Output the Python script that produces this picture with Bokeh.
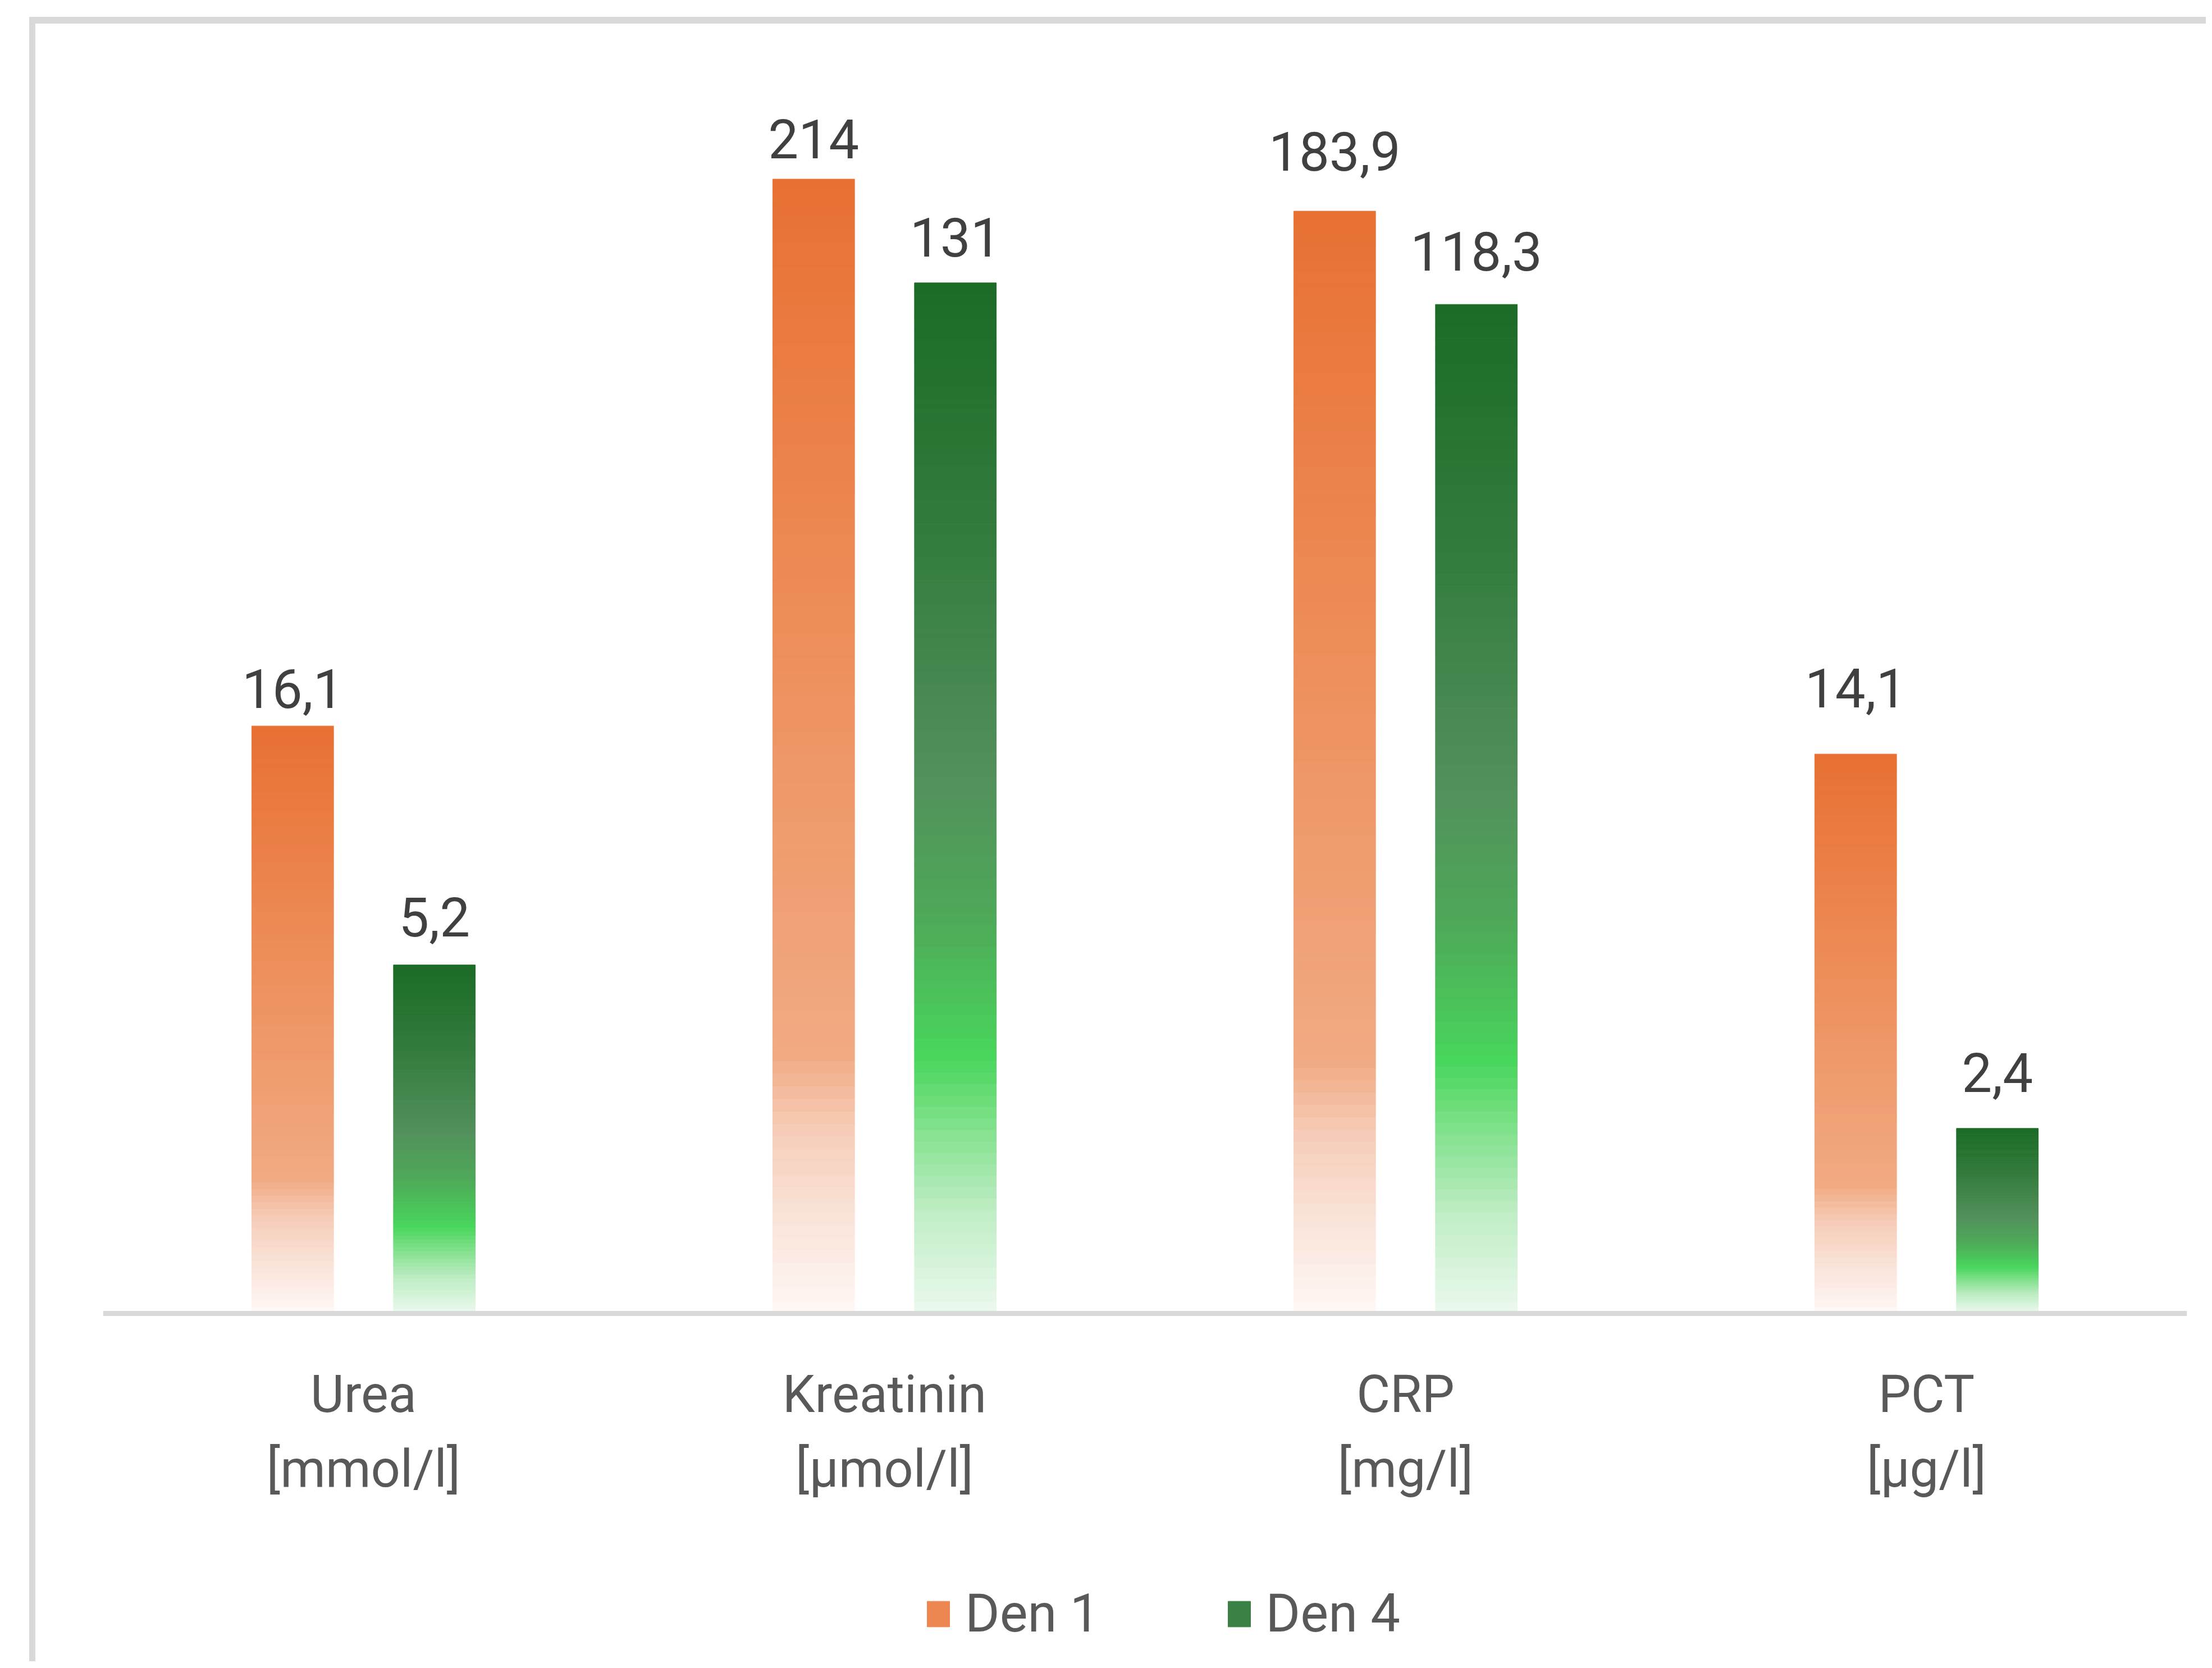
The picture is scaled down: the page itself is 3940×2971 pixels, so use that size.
import numpy as np
from bokeh.plotting import figure
from bokeh.models import Range1d, Legend, LegendItem, ColumnDataSource, Span
from bokeh.core.properties import value
from bokeh.embed import file_html
from bokeh.resources import INLINE

# ---- data ----
categories = ["Urea", "Kreatinin", "CRP", "PCT"]
units = ["[mmol/l]", "[µmol/l]", "[mg/l]", "[µg/l]"]
den1 = [16.1, 214, 183.9, 14.1]
den4 = [5.2, 131, 118.3, 2.4]
series_names = ["Den 1", "Den 4"]
baseline_value = 1  # bars start at 1 on the logarithmic value axis

# ---- style ----
FONT = "Roboto"
orange_stops = [(0.00, (232, 112, 50)), (0.40, (237, 142, 90)), (0.77, (241, 170, 130)),
                (0.84, (246, 205, 185)), (0.92, (250, 228, 218)), (1.00, (254, 248, 245))]
green_stops = [(0.00, (27, 107, 38)), (0.25, (52, 124, 62)), (0.48, (82, 144, 92)),
               (0.62, (78, 170, 88)), (0.75, (72, 214, 92)), (0.82, (130, 225, 140)),
               (0.90, (190, 237, 196)), (1.00, (236, 249, 238))]
# gap (px) between each data label's baseline and its bar top, as placed in the original
label_gap1 = [32, 37, 72, 83]
label_gap4 = [50, 46, 60, 64]

def grad_color(stops, t):
    ts = [s[0] for s in stops]
    rgb = [np.interp(t, ts, [s[1][c] for s in stops]) for c in range(3)]
    return "#%02x%02x%02x" % tuple(int(round(v)) for v in rgb)

# layout (page pixels)
page_w, page_h = 3940, 2971
m_left, m_top, b_left, b_top = 52, 30, 11, 12
canvas_w = page_w - m_left - b_left
canvas_h = page_h - m_top - b_top
ox, oy = m_left + b_left, m_top + b_top
frame_left, frame_right, frame_top, baseline_px = 183, 3895, 100, 2339
frame_bottom = oy + canvas_h
px_per_decade = 867.0
lb = np.log10(baseline_value)
y_end = 10 ** (lb + (baseline_px - frame_top) / px_per_decade)
y_start = 10 ** (lb - (frame_bottom - baseline_px) / px_per_decade)

p = figure(width=canvas_w, height=canvas_h, output_backend="svg", toolbar_location=None,
           y_axis_type="log", x_range=Range1d(0.5, 4.5), y_range=Range1d(y_start, y_end),
           min_border_left=frame_left - ox, min_border_right=page_w - frame_right,
           min_border_top=frame_top - oy, min_border_bottom=0)
p.margin = (m_top, 0, 0, m_left)
p.styles = {"border-top": f"{b_top}px solid #D9D9D9", "border-left": f"{b_left}px solid #D9D9D9"}
p.outline_line_color = None
p.xgrid.visible = False
p.ygrid.visible = False
p.xaxis.visible = False
p.yaxis.visible = False
p.background_fill_color = "white"
p.border_fill_color = "white"

xs = np.arange(1, len(categories) + 1)
offset, bar_w = 0.136, 0.157
N = 90

def gradient_bars(vals, xpos, stops):
    data = dict(x=[], top=[], bottom=[], color=[])
    for v, xc in zip(vals, xpos):
        lv = np.log10(v)
        for k in range(N):
            data["x"].append(xc)
            data["top"].append(10 ** (lb + (lv - lb) * (1 - k / N)))
            data["bottom"].append(10 ** (lb + (lv - lb) * (1 - (k + 1) / N)))
            data["color"].append(grad_color(stops, (k + 0.5) / N))
    return ColumnDataSource(data)

r1 = p.vbar(x="x", top="top", bottom="bottom", width=bar_w, fill_color="color", line_color="color",
            line_width=1, source=gradient_bars(den1, xs - offset, orange_stops))
r4 = p.vbar(x="x", top="top", bottom="bottom", width=bar_w, fill_color="color", line_color="color",
            line_width=1, source=gradient_bars(den4, xs + offset, green_stops))

# category axis line
p.add_layout(Span(location=baseline_value, dimension="width", line_color="#D9D9D9", line_width=9))

def fmt(v):
    return ("%g" % v).replace(".", ",")

for vals, xpos, gaps in ((den1, xs - offset, label_gap1), (den4, xs + offset, label_gap4)):
    src = ColumnDataSource(dict(x=list(xpos), y=vals, text=[fmt(v) for v in vals],
                                yo=[-(g + 35) for g in gaps]))
    p.text(x="x", y="y", text="text", y_offset="yo", source=src, text_align="center",
           text_baseline="alphabetic", text_font=value(FONT),
           text_font_size="96px", text_color="#404040")

# category labels (two lines each) under the axis line
p.text(x=list(xs), y=[baseline_value] * len(xs), text=[f"{c}\n{u}" for c, u in zip(categories, units)],
       text_align="center", text_baseline="top", y_offset=90, text_font=value(FONT),
       text_font_size="92px", text_color="#595959", text_line_height=1.25)

# legend: swatch colour taken from an upper-middle slice of each gradient bar
idx = int(0.3 * N)
legend = Legend(items=[LegendItem(label=series_names[0], renderers=[r1], index=idx),
                       LegendItem(label=series_names[1], renderers=[r4], index=idx)],
                orientation="horizontal", location=(1646 - frame_left, 42),
                label_text_font=FONT, label_text_font_size="94px", label_text_color="#595959",
                glyph_width=50, glyph_height=57, label_standoff=23, spacing=223,
                padding=0, margin=0, border_line_color=None, background_fill_alpha=0)
p.add_layout(legend, "center")

open("out.html", "w").write(file_html(p, INLINE))
